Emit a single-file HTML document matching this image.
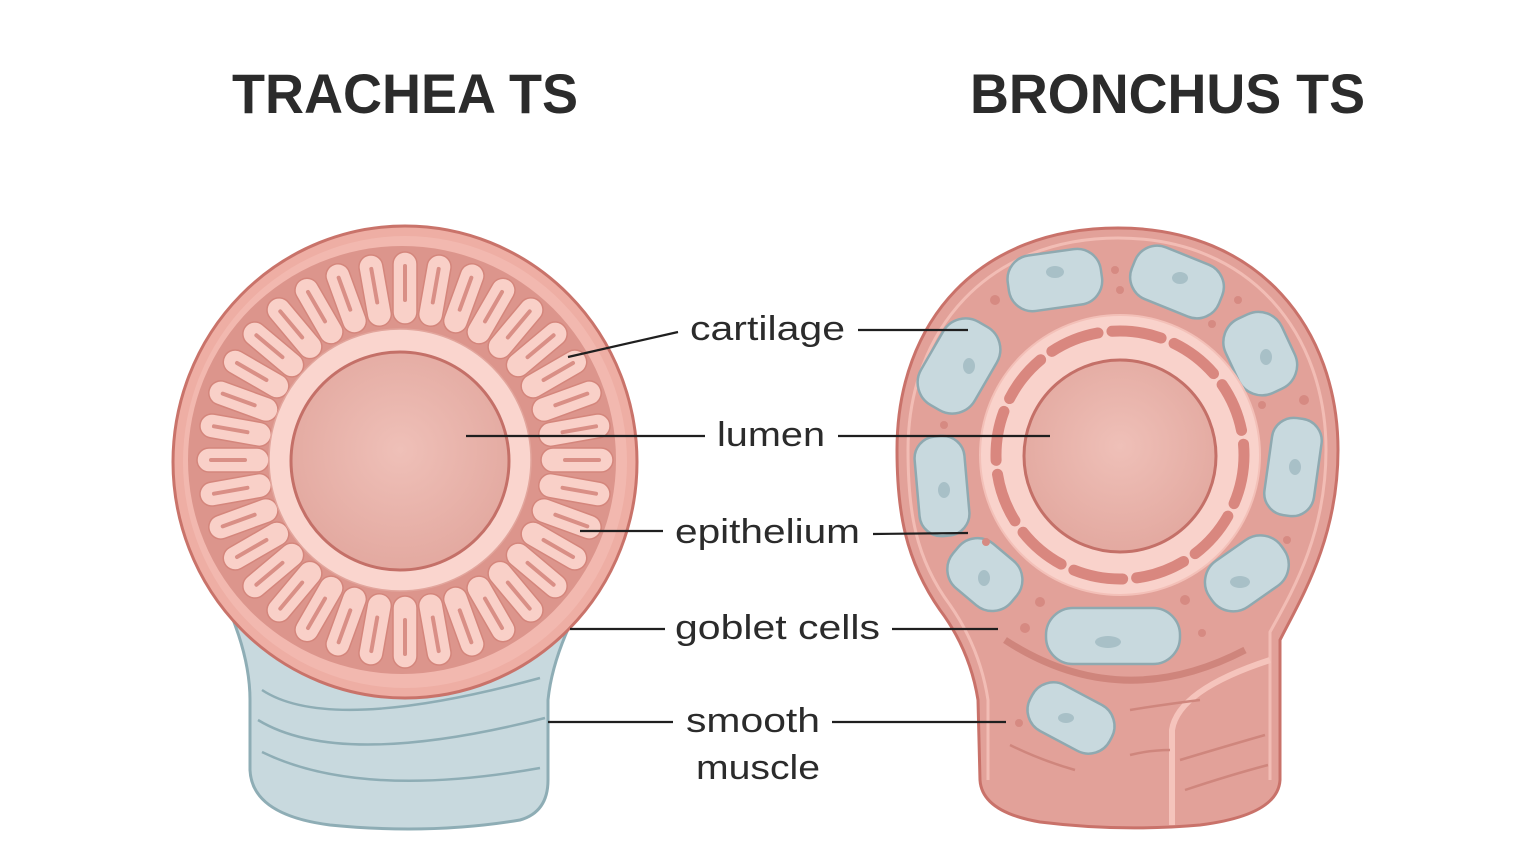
<!DOCTYPE html>
<html><head><meta charset="utf-8"><style>
html,body{margin:0;padding:0;background:#fff;}
svg{display:block;}
text{font-family:"Liberation Sans",sans-serif;fill:#2b2b2b;}
</style></head><body>
<svg width="1536" height="852" viewBox="0 0 1536 852" xmlns="http://www.w3.org/2000/svg">
<defs>
  <radialGradient id="lum" cx="50%" cy="45%" r="60%">
    <stop offset="0" stop-color="#efc0b8"/><stop offset="1" stop-color="#e2a79e"/>
  </radialGradient>
  <g id="vil">
    <rect x="393" y="252" width="24" height="72" rx="12" fill="#f9d0c8" stroke="#d4867c" stroke-width="1.5"/>
    <line x1="405" y1="266" x2="405" y2="300" stroke="#d98f86" stroke-width="4" stroke-linecap="round"/>
  </g>
</defs>

<text x="232" y="113" font-size="56" font-weight="bold" textLength="346" lengthAdjust="spacingAndGlyphs">TRACHEA TS</text>
<text x="970" y="113" font-size="56" font-weight="bold" textLength="395" lengthAdjust="spacingAndGlyphs">BRONCHUS TS</text>

<!-- TRACHEA -->
<path d="M230 612 Q250 660 250 700 L250 770 Q252 815 330 825 Q430 835 520 820 Q548 812 548 780 L548 700 Q552 660 576 612 Z" fill="#c8d9de" stroke="#8eadb5" stroke-width="3"/>
<path d="M262 690 Q330 735 540 678" fill="none" stroke="#8eadb5" stroke-width="2.5"/>
<path d="M258 720 Q340 770 545 718" fill="none" stroke="#8eadb5" stroke-width="2.5"/>
<path d="M262 752 Q360 800 540 768" fill="none" stroke="#8eadb5" stroke-width="2.5"/>

<ellipse cx="405" cy="462" rx="232" ry="236" fill="#eeaea4" stroke="#c9736a" stroke-width="3"/>
<ellipse cx="405" cy="462" rx="222" ry="226" fill="#f2b8af"/>
<circle cx="402" cy="460" r="214" fill="#dc958c"/>
<g>
  <use href="#vil" transform="rotate(0 405 460)"/><use href="#vil" transform="rotate(10 405 460)"/>
  <use href="#vil" transform="rotate(20 405 460)"/><use href="#vil" transform="rotate(30 405 460)"/>
  <use href="#vil" transform="rotate(40 405 460)"/><use href="#vil" transform="rotate(50 405 460)"/>
  <use href="#vil" transform="rotate(60 405 460)"/><use href="#vil" transform="rotate(70 405 460)"/>
  <use href="#vil" transform="rotate(80 405 460)"/><use href="#vil" transform="rotate(90 405 460)"/>
  <use href="#vil" transform="rotate(100 405 460)"/><use href="#vil" transform="rotate(110 405 460)"/>
  <use href="#vil" transform="rotate(120 405 460)"/><use href="#vil" transform="rotate(130 405 460)"/>
  <use href="#vil" transform="rotate(140 405 460)"/><use href="#vil" transform="rotate(150 405 460)"/>
  <use href="#vil" transform="rotate(160 405 460)"/><use href="#vil" transform="rotate(170 405 460)"/>
  <use href="#vil" transform="rotate(180 405 460)"/><use href="#vil" transform="rotate(190 405 460)"/>
  <use href="#vil" transform="rotate(200 405 460)"/><use href="#vil" transform="rotate(210 405 460)"/>
  <use href="#vil" transform="rotate(220 405 460)"/><use href="#vil" transform="rotate(230 405 460)"/>
  <use href="#vil" transform="rotate(240 405 460)"/><use href="#vil" transform="rotate(250 405 460)"/>
  <use href="#vil" transform="rotate(260 405 460)"/><use href="#vil" transform="rotate(270 405 460)"/>
  <use href="#vil" transform="rotate(280 405 460)"/><use href="#vil" transform="rotate(290 405 460)"/>
  <use href="#vil" transform="rotate(300 405 460)"/><use href="#vil" transform="rotate(310 405 460)"/>
  <use href="#vil" transform="rotate(320 405 460)"/><use href="#vil" transform="rotate(330 405 460)"/>
  <use href="#vil" transform="rotate(340 405 460)"/><use href="#vil" transform="rotate(350 405 460)"/>
</g>
<circle cx="400" cy="460" r="131" fill="#fad5ce" stroke="#e2a59c" stroke-width="1.5"/>
<circle cx="400" cy="461" r="109" fill="url(#lum)" stroke="#c47068" stroke-width="3"/>

<!-- BRONCHUS -->
<path d="M1118 228 C1260 228 1338 330 1338 450 C1338 540 1300 600 1280 640 L1280 780 Q1278 815 1200 825 Q1120 832 1040 822 Q982 812 980 780 L978 700 Q970 650 940 610 C905 560 897 510 897 450 C897 320 980 228 1118 228 Z" fill="#e2a199" stroke="#c9726a" stroke-width="3"/>
<path d="M1118 238 C1252 238 1326 335 1326 450 C1326 535 1292 592 1270 632 L1270 780 M988 780 L988 700 Q980 648 950 605 C915 558 908 510 908 450 C908 330 988 238 1118 238" fill="none" stroke="#f2bdb5" stroke-width="3"/>
<path d="M1005 640 Q1120 715 1245 650" fill="none" stroke="#cf857c" stroke-width="7"/>
<path d="M1172 825 L1172 730 Q1178 690 1270 660" fill="none" stroke="#f5c4bc" stroke-width="6"/>
<path d="M1180 760 Q1230 745 1265 735 M1185 790 Q1230 775 1268 765 M1130 710 Q1160 705 1200 700 M1130 755 Q1150 750 1170 750 M1010 745 Q1040 760 1075 770" fill="none" stroke="#cf867d" stroke-width="2.5"/>

<g fill="#c8d9de" stroke="#8fa9b0" stroke-width="2.5">
  <rect x="1008" y="252" width="94" height="56" rx="24" transform="rotate(-8 1055 281)"/>
  <rect x="1130" y="254" width="94" height="56" rx="24" transform="rotate(22 1177 282)"/>
  <rect x="1230" y="312" width="62" height="82" rx="26" transform="rotate(-25 1262 355)"/>
  <rect x="1268" y="418" width="50" height="98" rx="22" transform="rotate(8 1293 467)"/>
  <rect x="1204" y="545" width="88" height="56" rx="26" transform="rotate(-35 1248 575)"/>
  <rect x="1046" y="608" width="134" height="56" rx="27"/>
  <rect x="946" y="546" width="76" height="58" rx="25" transform="rotate(40 985 576)"/>
  <rect x="917" y="436" width="50" height="100" rx="22" transform="rotate(-5 942 486)"/>
  <rect x="928" y="318" width="62" height="96" rx="26" transform="rotate(30 959 366)"/>
  <rect x="1026" y="692" width="90" height="52" rx="24" transform="rotate(28 1071 718)"/>
</g>
<g fill="#a8c0c7">
  <ellipse cx="1055" cy="272" rx="9" ry="6"/><ellipse cx="1180" cy="278" rx="8" ry="6"/>
  <ellipse cx="1266" cy="357" rx="6" ry="8"/><ellipse cx="1295" cy="467" rx="6" ry="8"/>
  <ellipse cx="1240" cy="582" rx="10" ry="6"/><ellipse cx="1108" cy="642" rx="13" ry="6"/>
  <ellipse cx="984" cy="578" rx="6" ry="8"/><ellipse cx="944" cy="490" rx="6" ry="8"/>
  <ellipse cx="969" cy="366" rx="6" ry="8"/><ellipse cx="1066" cy="718" rx="8" ry="5"/>
</g>
<g fill="#d68a82">
  <circle cx="995" cy="300" r="5"/><circle cx="1115" cy="270" r="4"/><circle cx="1120" cy="290" r="4"/>
  <circle cx="1238" cy="300" r="4"/><circle cx="1212" cy="324" r="4"/><circle cx="1304" cy="400" r="5"/>
  <circle cx="1262" cy="405" r="4"/><circle cx="1287" cy="540" r="4"/>
  <circle cx="1040" cy="602" r="5"/><circle cx="1185" cy="600" r="5"/><circle cx="1025" cy="628" r="5"/>
  <circle cx="1202" cy="633" r="4"/><circle cx="944" cy="425" r="4"/>
  <circle cx="986" cy="542" r="4"/><circle cx="1019" cy="723" r="4"/>
</g>
<circle cx="1120" cy="455" r="140" fill="#f9d2cb" stroke="#f3c0b8" stroke-width="2"/>
<circle cx="1120" cy="455" r="124" fill="none" stroke="#d9877f" stroke-width="11" stroke-dasharray="50 14" stroke-linecap="round"/>
<circle cx="1120" cy="456" r="96" fill="url(#lum)" stroke="#c47068" stroke-width="3"/>

<g stroke="#1f1f1f" stroke-width="2.2">
  <line x1="568" y1="357" x2="678" y2="332"/><line x1="858" y1="330" x2="968" y2="330"/>
  <line x1="466" y1="436" x2="705" y2="436"/><line x1="838" y1="436" x2="1050" y2="436"/>
  <line x1="580" y1="531" x2="663" y2="531"/><line x1="873" y1="534" x2="968" y2="533"/>
  <line x1="570" y1="629" x2="665" y2="629"/><line x1="892" y1="629" x2="998" y2="629"/>
  <line x1="548" y1="722" x2="673" y2="722"/><line x1="832" y1="722" x2="1006" y2="722"/>
</g>
<g font-size="34">
  <text x="690" y="340" textLength="155" lengthAdjust="spacingAndGlyphs">cartilage</text>
  <text x="717" y="446" textLength="108" lengthAdjust="spacingAndGlyphs">lumen</text>
  <text x="675" y="543" textLength="185" lengthAdjust="spacingAndGlyphs">epithelium</text>
  <text x="675" y="639" textLength="205" lengthAdjust="spacingAndGlyphs">goblet cells</text>
  <text x="686" y="732" textLength="134" lengthAdjust="spacingAndGlyphs">smooth</text>
  <text x="696" y="779" textLength="124" lengthAdjust="spacingAndGlyphs">muscle</text>
</g>
</svg>
</body></html>
